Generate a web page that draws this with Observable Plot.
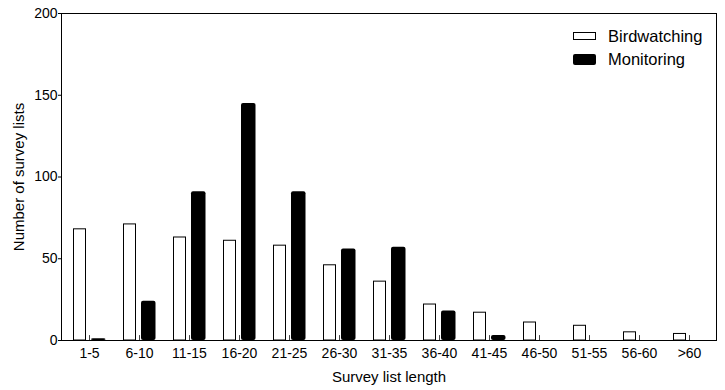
<!DOCTYPE html>
<html><head><meta charset="utf-8">
<script src="https://cdn.jsdelivr.net/npm/d3@7"></script>
<script src="https://cdn.jsdelivr.net/npm/@observablehq/plot@0.6"></script>
<style>
body{margin:0;background:#fff;font-family:Arial,"Liberation Sans",sans-serif;}
#wrap{position:relative;width:725px;height:390px;}
.lg{position:absolute;left:573px;font-size:16.5px;color:#000;display:flex;align-items:center;height:20px;}
.sw{width:23px;box-sizing:border-box;margin-right:12px;}
</style></head><body>
<div id="wrap">
  <div class="lg" style="top:26px"><div class="sw" style="height:8px;border:1px solid #000;background:#fff"></div>Birdwatching</div>
  <div class="lg" style="top:49px"><div class="sw" style="height:11px;background:#000;border-radius:2px"></div>Monitoring</div>
</div>
<script>
const categories = ["1-5","6-10","11-15","16-20","21-25","26-30","31-35","36-40","41-45","46-50","51-55","56-60",">60"];
const birdwatching = [68,71,63,61,58,46,36,22,17,11,9,5,4];
const monitoring = [1,24,91,145,91,56,57,18,3,0,0,0,0];
const yTicks = [0,50,100,150,200];
const xTitle = "Survey list length";
const yTitle = "Number of survey lists";

const bw = categories.map((c,i)=>({category:c, value:birdwatching[i]}));
const mo = categories.map((c,i)=>({category:c, value:monitoring[i]})).filter(d=>d.value>0);

const chart = Plot.plot({
  width:725, height:390,
  marginLeft:61, marginRight:9, marginTop:13, marginBottom:50,
  style:{fontFamily:'Arial,"Liberation Sans",sans-serif', fontSize:"14px", color:"black", background:"white"},
  x:{domain:categories, padding:0, label:null},
  y:{domain:[0,200], label:null},
  marks:[
    Plot.barY(bw,{x:"category", y:"value", fill:"white", stroke:"black", strokeWidth:1, insetLeft:9.5, insetRight:28.5}),
    Plot.barY(mo,{x:"category", y:"value", fill:"black", insetLeft:27, insetRight:8.5, rx:2}),
    Plot.ruleX(categories,{x:d=>d, y1:0, y2:3, stroke:"#444"}),
    Plot.frame({stroke:"black"}),
    Plot.axisY({ticks:yTicks, tickSize:3, tickPadding:1, label:null, fontSize:14}),
    Plot.axisX({tickSize:0, tickPadding:8, label:null, fontSize:14}),
    Plot.text([yTitle],{frameAnchor:"left", textAnchor:"middle", lineAnchor:"middle", rotate:-90, dx:-42, fontSize:15}),
    Plot.text([xTitle],{frameAnchor:"bottom", textAnchor:"middle", lineAnchor:"middle", dy:37, fontSize:15})
  ]
});
document.getElementById("wrap").prepend(chart);
chart.style.position="absolute"; chart.style.left="0"; chart.style.top="0";
</script>
</body></html>
